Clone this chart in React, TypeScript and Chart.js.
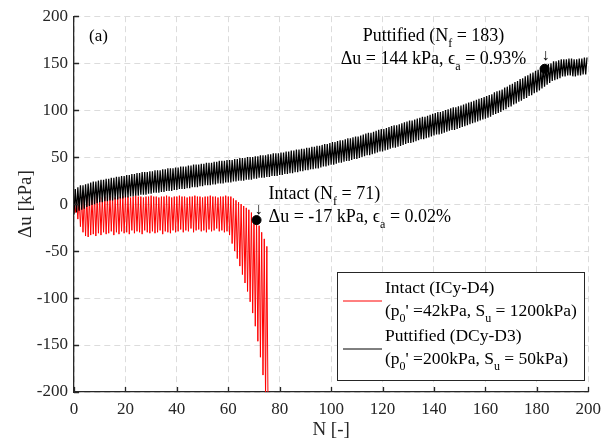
import { useEffect, useRef } from "react";
import { Chart, registerables } from "chart.js";

Chart.register(...registerables);

// Cycle-by-cycle excess pore pressure, Δu [kPa]: peak and trough of every loading cycle N.
const intactHigh = [
  0, 4, 6, 7, 8, 8, 7, 8, 9, 8,
  8, 7, 8, 8, 9, 8, 7, 8, 8, 9,
  8, 8, 7, 8, 9, 8, 8, 7, 8, 8,
  9, 8, 8, 7, 8, 8, 9, 8, 7, 8,
  8, 9, 8, 8, 7, 8, 8, 9, 8, 8,
  7, 8, 8, 9, 8, 8, 7, 8, 8, 9,
  8, 8, 6, 4, 2, 0, -2, -4, -6, -9,
  -13, -17, -23, -30, -37, -45,
];
const intactLow = [
  -9, -16, -24, -30, -34, -35, -33, -32, -34, -31,
  -33, -30, -32, -31, -29, -33, -30, -32, -29, -31,
  -30, -32, -28, -31, -29, -30, -32, -28, -30, -31,
  -29, -31, -30, -28, -32, -29, -30, -31, -28, -30,
  -29, -27, -30, -28, -29, -26, -30, -28, -27, -29,
  -28, -30, -27, -29, -28, -26, -29, -28, -30, -29,
  -33, -42, -50, -58, -66, -75, -84, -93, -104, -116,
  -130, -146, -163, -182, -205, -230,
];

const puttifiedHigh = [
  16, 18, 20, 20, 21, 22, 23, 24, 24, 25,
  26, 26, 27, 27, 28, 28, 29, 29, 30, 30,
  31, 31, 32, 32, 33, 33, 34, 34, 34, 35,
  35, 36, 36, 36, 37, 37, 38, 38, 38, 39,
  39, 40, 40, 40, 41, 41, 42, 42, 42, 43,
  43, 44, 44, 44, 45, 45, 46, 46, 46, 47,
  47, 47, 48, 48, 49, 49, 49, 50, 50, 50,
  51, 51, 52, 52, 52, 53, 53, 54, 54, 54,
  55, 55, 56, 56, 57, 57, 58, 58, 59, 59,
  60, 60, 61, 61, 62, 62, 63, 64, 64, 65,
  66, 66, 67, 68, 68, 69, 70, 70, 71, 72,
  72, 73, 74, 75, 76, 76, 77, 78, 79, 80,
  80, 81, 82, 83, 84, 84, 85, 86, 87, 88,
  89, 89, 90, 91, 92, 93, 93, 94, 95, 96,
  97, 98, 98, 99, 100, 101, 102, 103, 103, 104,
  105, 106, 107, 108, 109, 110, 111, 112, 113, 114,
  115, 116, 117, 119, 120, 121, 122, 124, 125, 127,
  128, 130, 131, 133, 134, 136, 137, 139, 140, 142,
  143, 145, 147, 148, 149, 150, 152, 152, 153, 154,
  154, 154, 155, 155, 154, 154, 155, 155, 156, 156,
];
const puttifiedLow = [
  -11, -9, -7, -6, -5, -3, -2, -1, 0, 1,
  2, 2, 3, 3, 4, 4, 5, 5, 6, 6,
  7, 7, 8, 8, 9, 9, 10, 10, 10, 11,
  11, 12, 12, 12, 13, 13, 14, 14, 14, 15,
  15, 16, 16, 16, 17, 17, 18, 18, 18, 19,
  19, 20, 20, 20, 21, 21, 22, 22, 22, 23,
  23, 23, 24, 24, 25, 25, 25, 26, 26, 26,
  27, 27, 28, 28, 28, 29, 29, 30, 30, 30,
  31, 31, 32, 32, 33, 33, 34, 34, 35, 35,
  36, 36, 37, 37, 38, 38, 39, 40, 40, 41,
  42, 42, 43, 44, 44, 45, 46, 46, 47, 48,
  48, 49, 50, 51, 52, 52, 53, 54, 55, 56,
  56, 57, 58, 59, 60, 60, 61, 62, 63, 64,
  65, 65, 66, 67, 68, 69, 69, 70, 71, 72,
  73, 74, 74, 75, 76, 77, 78, 79, 79, 80,
  81, 82, 83, 84, 85, 86, 87, 88, 89, 90,
  91, 92, 93, 95, 96, 97, 98, 100, 101, 103,
  104, 106, 107, 109, 110, 112, 113, 115, 116, 118,
  119, 121, 123, 125, 127, 129, 131, 132, 133, 134,
  136, 136, 137, 137, 136, 136, 137, 137, 138, 138,
];

// Failure points (cycle number, Δu at failure)
const intactFailure = { N: 71, du: -17 };
const puttifiedFailure = { N: 183, du: 144 };

const xTickValues = [0, 20, 40, 60, 80, 100, 120, 140, 160, 180, 200];
const yTickValues = [-200, -150, -100, -50, 0, 50, 100, 150, 200];

const INTACT_COLOR = "#ff0000";
const PUTTIFIED_COLOR = "#000000";
const AXIS_COLOR = "#262626";
const GRID_COLOR = "#dcdcdc";
const FONT_FAMILY = '"Liberation Serif", "DejaVu Serif", "Times New Roman", serif';

type Run = [string, boolean];

function font(size: number) {
  return `${size}px ${FONT_FAMILY}`;
}

function runsWidth(ctx: CanvasRenderingContext2D, runs: Run[], size: number) {
  let w = 0;
  for (const [t, sub] of runs) {
    ctx.font = font(sub ? Math.round(size * 0.68) : size);
    w += ctx.measureText(t).width;
  }
  return w;
}

function drawRuns(
  ctx: CanvasRenderingContext2D,
  runs: Run[],
  x: number,
  y: number,
  size: number,
  align: "left" | "center" = "left"
) {
  let cx = align === "center" ? x - runsWidth(ctx, runs, size) / 2 : x;
  ctx.textAlign = "left";
  ctx.textBaseline = "alphabetic";
  for (const [t, sub] of runs) {
    ctx.font = font(sub ? Math.round(size * 0.68) : size);
    ctx.fillText(t, cx, sub ? y + size * 0.32 : y);
    cx += ctx.measureText(t).width;
  }
}

function cyclePoints(first: number[], second: number[]) {
  const pts: { x: number; y: number }[] = [];
  for (let i = 0; i < first.length; i++) {
    pts.push({ x: i, y: first[i] });
    pts.push({ x: i + 0.5, y: second[i] });
  }
  return pts;
}

const decorations = {
  id: "decorations",
  afterDraw(chart: any) {
    const { ctx, chartArea, scales } = chart;
    const xs = scales.x;
    const ys = scales.y;
    ctx.save();

    // inward tick marks
    ctx.strokeStyle = AXIS_COLOR;
    ctx.lineWidth = 1.3;
    ctx.beginPath();
    for (const v of xTickValues) {
      const px = Math.round(xs.getPixelForValue(v)) + 0.5;
      ctx.moveTo(px, chartArea.bottom);
      ctx.lineTo(px, chartArea.bottom - 5);
    }
    for (const v of yTickValues) {
      const py = Math.round(ys.getPixelForValue(v)) + 0.5;
      ctx.moveTo(chartArea.left, py);
      ctx.lineTo(chartArea.left + 5, py);
    }
    ctx.stroke();

    // axis titles
    ctx.fillStyle = AXIS_COLOR;
    ctx.font = font(19);
    ctx.textAlign = "center";
    ctx.textBaseline = "middle";
    ctx.fillText("N [-]", (chartArea.left + chartArea.right) / 2, 430);
    ctx.save();
    ctx.translate(26, (chartArea.top + chartArea.bottom) / 2);
    ctx.rotate(-Math.PI / 2);
    ctx.fillText("Δu [kPa]", 0, 0);
    ctx.restore();

    // panel label
    ctx.fillStyle = "#000";
    ctx.font = font(17);
    ctx.textAlign = "left";
    ctx.textBaseline = "alphabetic";
    ctx.fillText("(a)", 89, 41);

    // failure annotations
    const size = 18;
    const pX = xs.getPixelForValue(puttifiedFailure.N);
    const pY = ys.getPixelForValue(puttifiedFailure.du);
    drawRuns(ctx, [["Puttified (N", false], ["f", true], [" = 183)", false]], pX - 111, pY - 28, size, "center");
    drawRuns(ctx, [["Δu = 144 kPa, ϵ", false], ["a", true], [" = 0.93%", false]], pX - 111, pY - 5, size, "center");
    ctx.font = font(16);
    ctx.textAlign = "center";
    ctx.fillText("↓", pX + 1, pY - 9);

    const iX = xs.getPixelForValue(intactFailure.N);
    const iY = ys.getPixelForValue(intactFailure.du);
    drawRuns(ctx, [["Intact (N", false], ["f", true], [" = 71)", false]], iX + 12, iY - 21, size);
    drawRuns(ctx, [["Δu = -17 kPa, ϵ", false], ["a", true], [" = 0.02%", false]], iX + 12, iY + 2, size);
    ctx.font = font(16);
    ctx.textAlign = "center";
    ctx.fillText("↓", iX + 2, iY - 6);

    // legend box
    const lx = 337, ly = 272, lw = 247, lh = 108;
    ctx.fillStyle = "#fff";
    ctx.fillRect(lx, ly, lw, lh);
    ctx.strokeStyle = AXIS_COLOR;
    ctx.lineWidth = 1;
    ctx.strokeRect(lx + 0.5, ly + 0.5, lw, lh);
    const entries = [
      {
        color: INTACT_COLOR,
        lines: [
          [["Intact (ICy-D4)", false]] as Run[],
          [["(p", false], ["0", true], ["' =42kPa, S", false], ["u", true], [" = 1200kPa)", false]] as Run[],
        ],
      },
      {
        color: PUTTIFIED_COLOR,
        lines: [
          [["Puttified (DCy-D3)", false]] as Run[],
          [["(p", false], ["0", true], ["' =200kPa, S", false], ["u", true], [" = 50kPa)", false]] as Run[],
        ],
      },
    ];
    entries.forEach((e, i) => {
      const base = ly + 21 + i * 48;
      ctx.strokeStyle = e.color;
      ctx.lineWidth = 1;
      ctx.beginPath();
      ctx.moveTo(lx + 6, base + 8);
      ctx.lineTo(lx + 45, base + 8);
      ctx.stroke();
      ctx.fillStyle = "#000";
      drawRuns(ctx, e.lines[0], lx + 48, base, 17.5);
      drawRuns(ctx, e.lines[1], lx + 48, base + 23, 17.5);
    });

    ctx.restore();
  },
};

export default function App() {
  const canvasRef = useRef<HTMLCanvasElement | null>(null);

  useEffect(() => {
    const canvas = canvasRef.current;
    if (!canvas) return;
    const tickFont = { family: FONT_FAMILY, size: 17 };
    const chart = new Chart(canvas, {
      type: "line",
      data: {
        datasets: [
          {
            label: "Intact (ICy-D4)",
            data: cyclePoints(intactHigh, intactLow),
            borderColor: INTACT_COLOR,
            borderWidth: 1,
            pointRadius: 0,
            tension: 0,
            order: 2,
          },
          {
            label: "Puttified (DCy-D3)",
            data: cyclePoints(puttifiedLow, puttifiedHigh),
            borderColor: PUTTIFIED_COLOR,
            borderWidth: 1.25,
            pointRadius: 0,
            tension: 0,
            order: 1,
          },
          {
            label: "Failure",
            data: [
              { x: intactFailure.N, y: intactFailure.du },
              { x: puttifiedFailure.N, y: puttifiedFailure.du },
            ],
            showLine: false,
            pointRadius: 4.5,
            pointBackgroundColor: "#000",
            pointBorderColor: "#000",
            order: 0,
          },
        ],
      },
      options: {
        animation: false,
        responsive: false,
        events: [],
        layout: { padding: { left: 0, right: 17, top: 14, bottom: 0 } },
        plugins: {
          legend: { display: false },
          tooltip: { enabled: false },
        },
        scales: {
          x: {
            type: "linear",
            min: 0,
            max: 200,
            afterBuildTicks: (s: any) => {
              s.ticks = xTickValues.map((v) => ({ value: v }));
            },
            afterFit: (s: any) => {
              s.height = 53;
            },
            ticks: { color: AXIS_COLOR, font: tickFont, padding: 7, maxRotation: 0 },
            grid: { color: GRID_COLOR, lineWidth: 1, drawTicks: false },
            border: { display: true, color: AXIS_COLOR, width: 1.3, dash: [6, 4] },
          },
          y: {
            type: "linear",
            min: -200,
            max: 200,
            afterBuildTicks: (s: any) => {
              s.ticks = yTickValues.map((v) => ({ value: v }));
            },
            afterFit: (s: any) => {
              s.width = 74;
            },
            ticks: { color: AXIS_COLOR, font: tickFont, padding: 6 },
            grid: { color: GRID_COLOR, lineWidth: 1, drawTicks: false },
            border: { display: true, color: AXIS_COLOR, width: 1.3, dash: [6, 4] },
          },
        },
      },
      plugins: [decorations],
    });
    return () => chart.destroy();
  }, []);

  return (
    <div style={{ position: "absolute", left: 0, top: 0, width: 608, height: 445, background: "#fff" }}>
      <canvas ref={canvasRef} width={608} height={445} style={{ display: "block" }} />
    </div>
  );
}
